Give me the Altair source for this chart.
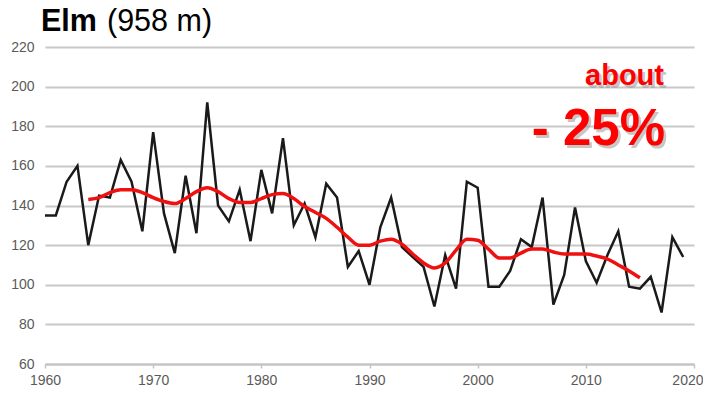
import altair as alt
import pandas as pd

# Annual values (black line)
years = list(range(1960, 2020))
values = [135, 135, 152, 160, 120, 145, 144, 163, 152, 127,
          177, 136, 116, 155, 126, 192, 140, 132, 148, 122,
          158, 136, 174, 130, 141, 124, 151, 144, 109, 117,
          100, 129, 144, 119, 114, 109, 89, 115, 98, 152,
          149, 99, 99, 107, 123, 119, 144, 90, 105, 139,
          112, 101, 115, 127, 99, 98, 104, 86, 124, 114]

# Smoothed curve (red line)
smooth_years = list(range(1964, 2016))
smooth_values = [143, 144, 146.5, 148, 148, 146.5, 144, 142, 141, 143.5,
                 147, 149, 147, 143.5, 141.5, 141.5, 143.5, 145.5, 146, 143.5,
                 139.5, 136.5, 133.5, 129, 124, 120, 120, 122, 123, 120.5,
                 115.5, 111, 108.5, 111, 117.5, 123, 122.5, 118, 113.5, 113.5,
                 116, 118, 118, 116.5, 115.5, 115.5, 115.5, 114.5, 113, 110,
                 107, 103.5]

x_ticks = [1960, 1970, 1980, 1990, 2000, 2010, 2020]
y_ticks = [60, 80, 100, 120, 140, 160, 180, 200, 220]

df = pd.DataFrame({"year": years, "value": values})
ds = pd.DataFrame({"year": smooth_years, "value": smooth_values})

xs = alt.Scale(domain=[1960, 2020], nice=False, zero=False)
ys = alt.Scale(domain=[60, 220], nice=False, zero=False)

x_axis = alt.Axis(values=x_ticks, format="d", title=None, grid=False,
                  domainColor="#c4c4c4", domainWidth=2, tickColor="#c4c4c4",
                  tickWidth=1.5, tickSize=4, labelPadding=5, labelFontSize=14,
                  labelColor="#5a5a5a", labelOverlap=False,
                  labelAlign=alt.expr("datum.value >= 2020 ? 'right' : 'center'"),
                  labelOffset=alt.expr("datum.value >= 2020 ? 9 : 0"))
y_axis = alt.Axis(values=y_ticks, title=None, grid=True, gridColor="#c8c8c8",
                  gridWidth=2, domain=False, ticks=False, labelPadding=11,
                  labelFontSize=14, labelColor="#5a5a5a", labelOverlap=False)

black = alt.Chart(df).mark_line(color="#1a1a1a", strokeWidth=2.5).encode(
    x=alt.X("year:Q", scale=xs, axis=x_axis),
    y=alt.Y("value:Q", scale=ys, axis=y_axis),
)

red = alt.Chart(ds).mark_line(color="#f01010", strokeWidth=3.5,
                              interpolate="monotone").encode(
    x=alt.X("year:Q", scale=xs, axis=x_axis),
    y=alt.Y("value:Q", scale=ys, axis=y_axis),
)

ann = pd.DataFrame({"t": [0]})
font = "Liberation Sans"

title1 = alt.Chart(ann).mark_text(text="Elm", font=font, fontSize=30.5,
                                  fontWeight="bold", align="left",
                                  baseline="alphabetic", color="#000000").encode(
    x=alt.value(-4), y=alt.value(-16))
title2 = alt.Chart(ann).mark_text(text="(958 m)", font=font, fontSize=30.5,
                                  fontWeight="normal", align="left",
                                  baseline="alphabetic", color="#000000").encode(
    x=alt.value(62), y=alt.value(-16))

def label(txt, size, x, y):
    shadow = alt.Chart(ann).mark_text(text=txt, font=font, fontSize=size,
                                      fontWeight="bold", align="right",
                                      baseline="alphabetic", color="#9a9a9a",
                                      opacity=0.55).encode(
        x=alt.value(x + 2.5), y=alt.value(y + 2.5))
    main = alt.Chart(ann).mark_text(text=txt, font=font, fontSize=size,
                                    fontWeight="bold", align="right",
                                    baseline="alphabetic", color="#ff0000").encode(
        x=alt.value(x), y=alt.value(y))
    return shadow + main

about = label("about", 29, 619, 38)
pct = label("- 25%", 51, 620, 98)

chart = alt.layer(black, red, title1, title2, about, pct).properties(
    width=649, height=317,
    autosize=alt.AutoSizeParams(type="none"),
    padding={"left": 37, "top": 39, "right": 9, "bottom": 22},
).configure(font=font).configure_view(stroke=None)

chart.save("out.html", embed_options={"renderer": "svg", "actions": False})
